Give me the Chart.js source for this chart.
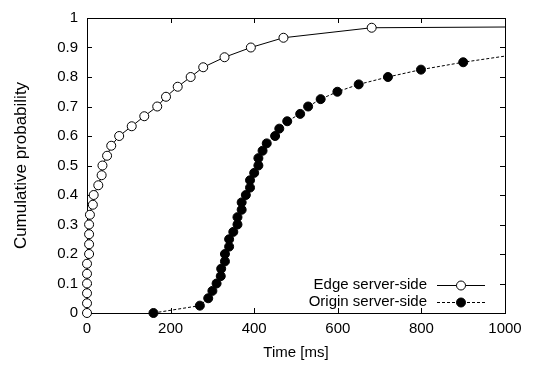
<!DOCTYPE html>
<html>
<head>
<meta charset="utf-8">
<script src="https://cdn.jsdelivr.net/npm/chart.js@4"></script>
<style>
  html, body { margin: 0; padding: 0; background: #fff; }
  #wrap { width: 536px; height: 365px; }
</style>
</head>
<body>
<div id="wrap"><canvas id="cdfChart" width="536" height="365"></canvas></div>
<script>
// Edge server-side samples (ms) and their cumulative probability
const edgeTimes = [0, 0, 0, 0, 0, 0, 5, 5, 5, 5, 7, 14, 16, 27, 35, 37, 48, 58, 77, 107,
                   137, 168, 189, 217, 248, 278, 329, 392, 470, 681, 5000];
const edgeProb = [0, 0.033, 0.067, 0.1, 0.133, 0.167, 0.2, 0.233, 0.267, 0.3, 0.333,
                  0.367, 0.4, 0.433, 0.467, 0.5, 0.533, 0.567, 0.6, 0.633, 0.667, 0.7,
                  0.733, 0.767, 0.8, 0.833, 0.867, 0.9, 0.933, 0.967, 1];

// Origin server-side samples (ms) and their cumulative probability
const originTimes = [159, 270, 290, 300, 310, 320, 321, 330, 330, 340, 340, 350, 360, 360,
                     370, 370, 380, 390, 390, 400, 410, 410, 420, 430, 450, 460, 479, 510,
                     529, 559, 599, 650, 720, 799, 900, 1020];
const originProb = [0, 0.025, 0.05, 0.075, 0.1, 0.125, 0.15, 0.175, 0.2, 0.225, 0.25, 0.275,
                    0.3, 0.325, 0.35, 0.375, 0.4, 0.425, 0.45, 0.475, 0.5, 0.525, 0.55,
                    0.575, 0.6, 0.625, 0.65, 0.675, 0.7, 0.725, 0.75, 0.775, 0.8, 0.825,
                    0.85, 0.875];

const seriesNames = ['Edge server-side', 'Origin server-side'];
const xTicks = [0, 200, 400, 600, 800, 1000];
const yTicks = [0, 0.1, 0.2, 0.3, 0.4, 0.5, 0.6, 0.7, 0.8, 0.9, 1];

const FONT = '"Liberation Sans", Arial, Helvetica, sans-serif';

function toPoints(xs, ys) {
    return xs.map((x, i) => ({ x: x, y: ys[i] }));
}

// frame with inward ticks on all four sides, gnuplot style
const framePlugin = {
    id: 'frame',
    beforeDatasetsDraw(chart) {
        const { ctx, chartArea: a, scales } = chart;
        const len = 5;
        ctx.save();
        ctx.strokeStyle = '#000';
        ctx.lineWidth = 1;
        ctx.beginPath();
        xTicks.forEach(v => {
            const px = Math.round(scales.x.getPixelForValue(v)) + 0.5;
            ctx.moveTo(px, a.bottom); ctx.lineTo(px, a.bottom - len);
            ctx.moveTo(px, a.top); ctx.lineTo(px, a.top + len);
        });
        yTicks.forEach(v => {
            const py = Math.round(scales.y.getPixelForValue(v)) + 0.5;
            ctx.moveTo(a.left, py); ctx.lineTo(a.left + len, py);
            ctx.moveTo(a.right, py); ctx.lineTo(a.right - len, py);
        });
        ctx.stroke();
        ctx.strokeRect(Math.round(a.left) + 0.5, Math.round(a.top) + 0.5,
                       Math.round(a.right - a.left), Math.round(a.bottom - a.top));
        ctx.restore();
    }
};

// legend inside the plot, bottom right: text then line sample with marker
const keyPlugin = {
    id: 'key',
    afterDraw(chart) {
        const ctx = chart.ctx;
        const textRight = 427, x0 = 437, x1 = 485, rows = [285, 302];
        ctx.save();
        ctx.font = '15px ' + FONT;
        ctx.fillStyle = '#000';
        ctx.textAlign = 'right';
        ctx.textBaseline = 'middle';
        chart.data.datasets.forEach((ds, i) => {
            const y = rows[i] + 0.5;
            ctx.fillText(ds.label, textRight, rows[i]);
            ctx.strokeStyle = ds.borderColor;
            ctx.lineWidth = 1;
            ctx.setLineDash(ds.borderDash || []);
            ctx.beginPath();
            ctx.moveTo(x0, y); ctx.lineTo(x1, y);
            ctx.stroke();
            ctx.setLineDash([]);
            ctx.beginPath();
            ctx.arc((x0 + x1) / 2, y, ds.pointRadius, 0, Math.PI * 2);
            ctx.fillStyle = ds.pointBackgroundColor;
            ctx.fill();
            ctx.stroke();
            ctx.fillStyle = '#000';
        });
        ctx.restore();
    }
};

const ctx = document.getElementById('cdfChart').getContext('2d');

// let markers spill over the left/bottom frame, but cut the lines at the right edge
const clipArea = { left: 8, top: 8, right: 0, bottom: 8 };

const data = {
    datasets: [{
        label: seriesNames[0],
        data: toPoints(edgeTimes, edgeProb),
        showLine: true,
        clip: clipArea,
        borderColor: '#000',
        borderWidth: 1,
        pointRadius: 4.5,
        pointBorderWidth: 1,
        pointBorderColor: '#000',
        pointBackgroundColor: '#fff'
    }, {
        label: seriesNames[1],
        data: toPoints(originTimes, originProb),
        showLine: true,
        clip: clipArea,
        borderColor: '#000',
        borderWidth: 1,
        borderDash: [3, 2],
        pointRadius: 4.5,
        pointBorderWidth: 1,
        pointBorderColor: '#000',
        pointBackgroundColor: '#000'
    }]
};

const config = {
    type: 'scatter',
    data: data,
    plugins: [framePlugin, keyPlugin],
    options: {
        responsive: false,
        animation: false,
        events: [],
        layout: { padding: { top: 13, right: 31, left: 0, bottom: 0 } },
        plugins: { legend: { display: false }, tooltip: { enabled: false } },
        scales: {
            x: {
                type: 'linear',
                min: 0,
                max: 1000,
                afterFit: s => { s.height = 52; },
                afterBuildTicks: s => { s.ticks = xTicks.map(v => ({ value: v })); },
                grid: { display: false, drawTicks: false },
                border: { display: false },
                ticks: { color: '#000', padding: 7, maxRotation: 0, font: { family: FONT, size: 15 },
                         callback: v => String(v) },
                title: { display: true, text: 'Time [ms]', color: '#000',
                         padding: { top: 0, bottom: 3 }, font: { family: FONT, size: 15 } }
            },
            y: {
                type: 'linear',
                min: 0,
                max: 1,
                afterFit: s => { s.width = 87; },
                afterBuildTicks: s => { s.ticks = yTicks.map(v => ({ value: v })); },
                grid: { display: false, drawTicks: false },
                border: { display: false },
                ticks: { color: '#000', padding: 9, font: { family: FONT, size: 15 },
                         callback: v => String(v) },
                title: { display: true, text: 'Cumulative probability', color: '#000',
                         padding: { top: 11, bottom: 0 }, font: { family: FONT, size: 17 } }
            }
        }
    }
};

const myChart = new Chart(ctx, config);
</script>
</body>
</html>
